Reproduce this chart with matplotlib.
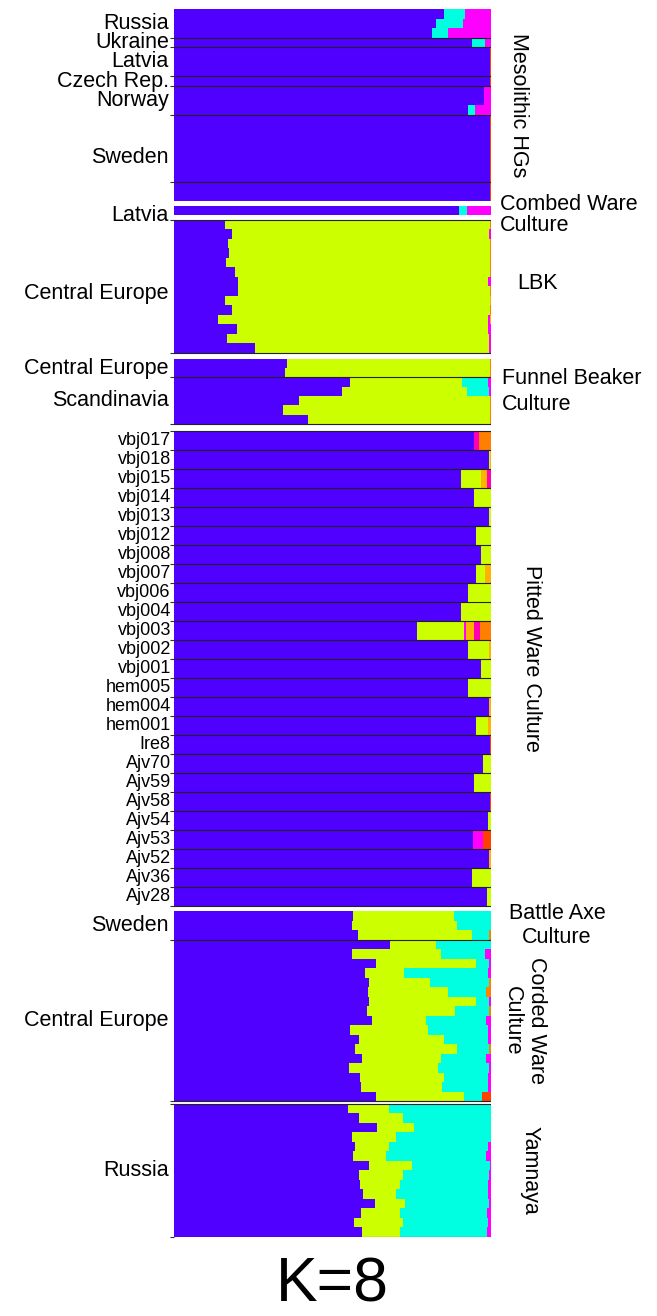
import matplotlib
matplotlib.use("Agg")
import matplotlib.pyplot as plt
import matplotlib.transforms as mtransforms
import numpy as np

plt.rcParams['font.family'] = ['Liberation Sans', 'DejaVu Sans']

# K=8 ancestry components, in stacking order (left to right)
colours = ["#5000FF", "#CCFF00", "#00FFE0", "#FF00FF",
           "#FFB300", "#FF00B4", "#FF7F00", "#FF4000"]

# rows: (purple, lime, cyan, magenta, amber, pink, orange, red)
meso_russia = [(0.852, 0, 0.066, 0.082, 0, 0, 0, 0),
               (0.827, 0, 0.084, 0.089, 0, 0, 0, 0),
               (0.814, 0, 0.050, 0.136, 0, 0, 0, 0)]
meso_ukraine = [(0.939, 0, 0.041, 0.020, 0, 0, 0, 0)]
meso_latvia = [(0.998, 0, 0, 0, 0, 0, 0, 0.002)] * 3
meso_czech = [(0.998, 0, 0, 0, 0, 0, 0, 0.002)]
meso_norway = [(0.978, 0, 0, 0.022, 0, 0, 0, 0),
               (0.978, 0, 0, 0.022, 0, 0, 0, 0),
               (0.927, 0, 0.022, 0.051, 0, 0, 0, 0)]
meso_sweden_a = [(0.998, 0, 0, 0, 0, 0, 0, 0.002)] * 7
meso_sweden_b = [(0.998, 0, 0, 0, 0, 0, 0, 0.002)] * 2

combed_latvia = [(0.898, 0, 0.027, 0.075, 0, 0, 0, 0)]

lbk_central = [(0.161, 0.837, 0, 0, 0, 0, 0.002, 0),
               (0.182, 0.813, 0, 0.005, 0, 0, 0, 0),
               (0.170, 0.828, 0, 0, 0, 0, 0.002, 0),
               (0.174, 0.824, 0, 0, 0, 0, 0.002, 0),
               (0.164, 0.834, 0, 0, 0, 0, 0.002, 0),
               (0.193, 0.805, 0, 0, 0, 0, 0.002, 0),
               (0.202, 0.790, 0, 0.008, 0, 0, 0, 0),
               (0.202, 0.796, 0, 0, 0, 0, 0.002, 0),
               (0.161, 0.836, 0, 0, 0.003, 0, 0, 0),
               (0.184, 0.814, 0, 0, 0, 0, 0.002, 0),
               (0.139, 0.851, 0, 0.006, 0.004, 0, 0, 0),
               (0.199, 0.792, 0, 0.009, 0, 0, 0, 0),
               (0.168, 0.827, 0, 0.005, 0, 0, 0, 0),
               (0.256, 0.738, 0, 0.006, 0, 0, 0, 0)]

fb_central = [(0.357, 0.640, 0, 0, 0, 0, 0.003, 0),
              (0.350, 0.647, 0, 0, 0, 0, 0.003, 0)]
fb_scandinavia = [(0.555, 0.354, 0.083, 0.008, 0, 0, 0, 0),
                  (0.530, 0.395, 0.068, 0.007, 0, 0, 0, 0),
                  (0.394, 0.604, 0, 0, 0, 0, 0.002, 0),
                  (0.343, 0.655, 0, 0, 0, 0, 0.002, 0),
                  (0.423, 0.575, 0, 0, 0, 0, 0.002, 0)]

pwc_ids = ["vbj017", "vbj018", "vbj015", "vbj014", "vbj013", "vbj012", "vbj008",
           "vbj007", "vbj006", "vbj004", "vbj003", "vbj002", "vbj001",
           "hem005", "hem004", "hem001", "Ire8", "Ajv70", "Ajv59", "Ajv58",
           "Ajv54", "Ajv53", "Ajv52", "Ajv36", "Ajv28"]
pwc_rows = [(0.946, 0, 0, 0, 0, 0.016, 0.038, 0),
            (0.995, 0.003, 0, 0, 0.002, 0, 0, 0),
            (0.905, 0.062, 0, 0, 0.020, 0.013, 0, 0),
            (0.946, 0.054, 0, 0, 0, 0, 0, 0),
            (0.993, 0.007, 0, 0, 0, 0, 0, 0),
            (0.952, 0.048, 0, 0, 0, 0, 0, 0),
            (0.968, 0.032, 0, 0, 0, 0, 0, 0),
            (0.952, 0.029, 0, 0, 0.019, 0, 0, 0),
            (0.927, 0.073, 0, 0, 0, 0, 0, 0),
            (0.905, 0.095, 0, 0, 0, 0, 0, 0),
            (0.766, 0.149, 0, 0.005, 0.025, 0.020, 0.035, 0),
            (0.927, 0.066, 0, 0, 0.007, 0, 0, 0),
            (0.968, 0.032, 0, 0, 0, 0, 0, 0),
            (0.927, 0.073, 0, 0, 0, 0, 0, 0),
            (0.995, 0, 0, 0, 0.005, 0, 0, 0),
            (0.952, 0.040, 0, 0, 0.008, 0, 0, 0),
            (0.998, 0, 0, 0, 0, 0, 0, 0.002),
            (0.975, 0.025, 0, 0, 0, 0, 0, 0),
            (0.946, 0.054, 0, 0, 0, 0, 0, 0),
            (0.998, 0, 0, 0, 0, 0, 0, 0.002),
            (0.992, 0.008, 0, 0, 0, 0, 0, 0),
            (0.943, 0, 0, 0.032, 0, 0, 0, 0.025),
            (0.995, 0, 0, 0, 0.005, 0, 0, 0),
            (0.939, 0.061, 0, 0, 0, 0, 0, 0),
            (0.987, 0.013, 0, 0, 0, 0, 0, 0)]

bac_sweden = [(0.564, 0.320, 0.116, 0, 0, 0, 0, 0),
              (0.561, 0.331, 0.108, 0, 0, 0, 0, 0),
              (0.579, 0.360, 0.056, 0, 0, 0, 0.005, 0)]

cwc_central = [(0.680, 0.147, 0.173, 0, 0, 0, 0, 0),
               (0.561, 0.280, 0.139, 0.020, 0, 0, 0, 0),
               (0.637, 0.315, 0.043, 0.005, 0, 0, 0, 0),
               (0.604, 0.120, 0.268, 0.008, 0, 0, 0, 0),
               (0.616, 0.191, 0.188, 0, 0, 0, 0.005, 0),
               (0.612, 0.252, 0.121, 0, 0, 0, 0.015, 0),
               (0.616, 0.338, 0.039, 0.007, 0, 0, 0, 0),
               (0.609, 0.277, 0.109, 0, 0, 0, 0.005, 0),
               (0.625, 0.170, 0.190, 0.015, 0, 0, 0, 0),
               (0.555, 0.247, 0.189, 0.009, 0, 0, 0, 0),
               (0.584, 0.268, 0.140, 0.008, 0, 0, 0, 0),
               (0.571, 0.322, 0.100, 0, 0, 0, 0.007, 0),
               (0.593, 0.248, 0.143, 0.016, 0, 0, 0, 0),
               (0.552, 0.280, 0.163, 0.005, 0, 0, 0, 0),
               (0.587, 0.265, 0.139, 0.009, 0, 0, 0, 0),
               (0.589, 0.256, 0.145, 0.010, 0, 0, 0, 0),
               (0.637, 0.277, 0.057, 0, 0, 0, 0, 0.029)]

yam_russia = [(0.550, 0.128, 0.322, 0, 0, 0, 0, 0),
              (0.585, 0.136, 0.279, 0, 0, 0, 0, 0),
              (0.641, 0.116, 0.243, 0, 0, 0, 0, 0),
              (0.561, 0.139, 0.300, 0, 0, 0, 0, 0),
              (0.571, 0.107, 0.313, 0.009, 0, 0, 0, 0),
              (0.564, 0.104, 0.317, 0.015, 0, 0, 0, 0),
              (0.616, 0.134, 0.247, 0.003, 0, 0, 0, 0),
              (0.584, 0.137, 0.273, 0.006, 0, 0, 0, 0),
              (0.587, 0.126, 0.278, 0.009, 0, 0, 0, 0),
              (0.596, 0.104, 0.291, 0.009, 0, 0, 0, 0),
              (0.634, 0.095, 0.266, 0.005, 0, 0, 0, 0),
              (0.590, 0.123, 0.275, 0.012, 0, 0, 0, 0),
              (0.568, 0.155, 0.269, 0.008, 0, 0, 0, 0),
              (0.593, 0.120, 0.274, 0.013, 0, 0, 0, 0)]

# blocks: populations, row height, separator at block top / bottom,
# vertical nudge (in rows) for the left-hand labels
blocks = [
    dict(pops=[("Russia", meso_russia), ("Ukraine", meso_ukraine),
               ("Latvia", meso_latvia), ("Czech Rep.", meso_czech),
               ("Norway", meso_norway), ("Sweden", meso_sweden_a),
               ("Sweden", meso_sweden_b)], unit=1.01, edges=(False, False)),
    dict(pops=[("Latvia", combed_latvia)], unit=1, edges=(False, False),
         nudge=0.5),
    dict(pops=[("Central Europe", lbk_central)], unit=1, edges=(True, True),
         nudge=0.7),
    dict(pops=[("Central Europe", fb_central), ("Scandinavia", fb_scandinavia)],
         unit=0.98, edges=(False, True)),
    dict(pops=[(n, [r]) for n, r in zip(pwc_ids, pwc_rows)], unit=2,
         edges=(True, True), small=True),
    dict(pops=[("Sweden", bac_sweden), ("Central Europe", cwc_central)],
         unit=1, edges=(False, True)),
    dict(pops=[("Russia", yam_russia)], unit=1, edges=(True, True)),
]
gaps = [0.5, 0.47, 0.6, 0.7, 0.52, 0.24]

fig = plt.figure(figsize=(6.57, 13.16), dpi=100)
ax = fig.add_axes([174 / 657, 1 - 1236.7 / 1316, 317 / 657, 1227.7 / 1316])

ys, hs, vals = [], [], []
lines = []
labels = []   # [text, y_top, y_bottom, small, nudge]
block_spans = []
y = 0.0
for bi, blk in enumerate(blocks):
    u = blk["unit"]
    top = y
    if blk["edges"][0]:
        lines.append(y)
    for pi, (name, rows) in enumerate(blk["pops"]):
        start = y
        for r in rows:
            ys.append(y + u / 2)
            hs.append(u)
            vals.append(r)
            y += u
        if pi > 0 and labels[-1][0] == name:
            labels[-1][2] = y
        else:
            labels.append([name, start, y, blk.get("small", False),
                           blk.get("nudge", 0)])
        if pi < len(blk["pops"]) - 1:
            lines.append(y)
    if blk["edges"][1]:
        lines.append(y)
    block_spans.append((top, y))
    if bi < len(gaps):
        y += gaps[bi]
total = y

vals = np.array(vals, dtype=float)
ys = np.array(ys)
hs = np.array(hs)
left = np.zeros(len(ys))
for k, c in enumerate(colours):
    ax.barh(ys, vals[:, k], left=left, height=hs, color=c,
            linewidth=0, antialiased=False)
    left += vals[:, k]

for ly in lines:
    ax.axhline(ly, color="#222222", lw=0.8)

ax.set_xlim(0, 1)
ax.set_ylim(total, 0)
for s in ax.spines.values():
    s.set_visible(False)
ax.set_xticks([])
ax.set_yticks(lines)
ax.tick_params(axis="y", length=3, width=0.8, color="#333333", labelleft=False)

tr = mtransforms.blended_transform_factory(ax.transAxes, ax.transData)
for name, a, b, small, nudge in labels:
    ax.text(-0.010 if small else -0.016, (a + b) / 2 + nudge, name,
            transform=tr, ha="right", va="center",
            fontsize=13 if small else 15.5)

# culture names on the right
meso = block_spans[0]
ax.text(1.088, sum(meso) / 2, "Mesolithic HGs", transform=tr, rotation=-90,
        ha="center", va="center", fontsize=15.5)
cw = block_spans[1]
ax.text(1.028, sum(cw) / 2 + 0.5, "Combed Ware\nCulture", transform=tr,
        ha="left", va="center", fontsize=15.5, linespacing=1.0)
lbk = block_spans[2]
ax.text(1.082, sum(lbk) / 2 - 0.3, "LBK", transform=tr, ha="left",
        va="center", fontsize=15.5)
fb = block_spans[3]
ax.text(1.035, sum(fb) / 2, "Funnel Beaker\nCulture", transform=tr,
        ha="left", va="center", fontsize=15.5, linespacing=1.3)
pwc = block_spans[4]
ax.text(1.129, sum(pwc) / 2 - 1.0, "Pitted Ware Culture", transform=tr,
        rotation=-90, ha="center", va="center", fontsize=15.5)
bac = [l for l in labels if l[0] == "Sweden"][-1]
ax.text(1.208, (bac[1] + bac[2]) / 2, "Battle Axe\nCulture", transform=tr,
        ha="center", va="center", fontsize=15.5)
cwc = labels[-2]
ax.text(1.106, (cwc[1] + cwc[2]) / 2, "Corded Ware\nCulture", transform=tr,
        rotation=-90, ha="center", va="center", fontsize=15.5)
yam = block_spans[6]
ax.text(1.123, sum(yam) / 2, "Yamnaya", transform=tr, rotation=-90,
        ha="center", va="center", fontsize=15.5)

fig.text(332 / 657, 0.001, "K=8", ha="center", va="bottom", fontsize=45)

fig.savefig("out.png", dpi=100)
